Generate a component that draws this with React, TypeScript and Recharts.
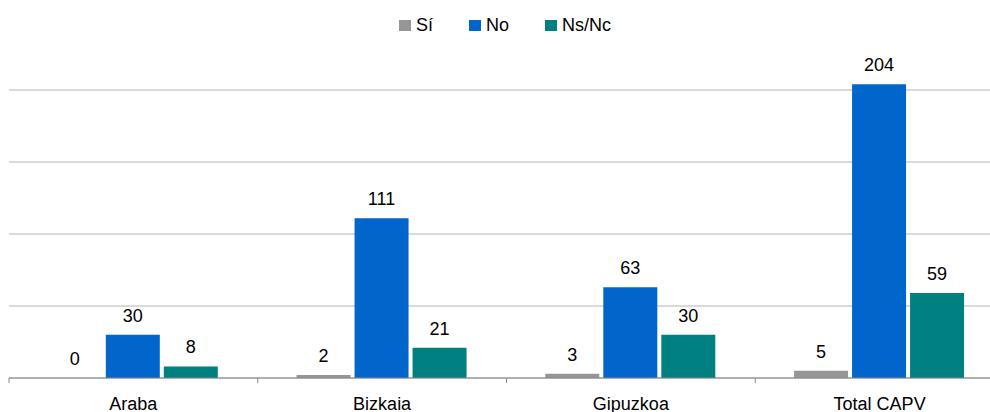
import React from 'react';
import { BarChart, Bar, XAxis, YAxis, CartesianGrid, Legend, LabelList } from 'recharts';

const categories = ['Araba', 'Bizkaia', 'Gipuzkoa', 'Total CAPV'];
const siValues = [0, 2, 3, 5];
const noValues = [30, 111, 63, 204];
const nsncValues = [8, 21, 30, 59];
const yTicks = [0, 50, 100, 150, 200];

const seriesInfo = [
  { key: 'si', name: 'Sí', color: '#969696' },
  { key: 'no', name: 'No', color: '#0066CC' },
  { key: 'nsnc', name: 'Ns/Nc', color: '#008080' },
];

const data = categories.map((c, i) => ({
  name: c,
  si: siValues[i],
  no: noValues[i],
  nsnc: nsncValues[i],
}));

const FONT = '"Liberation Sans", Arial, sans-serif';

const CustomTick = (props: any) => {
  const { x, y, payload, index } = props;
  const off = payload?.offset ?? 0;
  const isLast = index === categories.length - 1;
  return (
    <g>
      <line x1={x - off} x2={x - off} y1={y} y2={y + 5} stroke="#868686" strokeWidth={1} />
      {isLast && <line x1={x + off} x2={x + off} y1={y} y2={y + 5} stroke="#868686" strokeWidth={1} />}
      <text x={x} y={y + 19} dy="0.71em" textAnchor="middle" fontSize={18} fill="#000" fontFamily={FONT}>
        {payload.value}
      </text>
    </g>
  );
};

const renderLabel = (props: any) => {
  const { x, y, width, value } = props;
  if (value === undefined || value === null) return null;
  return (
    <text x={Number(x) + Number(width) / 2} y={Number(y) - 13} textAnchor="middle" fontSize={18} fill="#000" fontFamily={FONT}>
      {value}
    </text>
  );
};

const LegendContent = () => (
  <div
    style={{
      display: 'flex',
      justifyContent: 'center',
      fontFamily: FONT,
      fontSize: 18,
      lineHeight: '18px',
      color: '#000',
      whiteSpace: 'nowrap',
    }}
  >
    {seriesInfo.map((s, i) => (
      <span key={s.key} style={{ marginRight: i < seriesInfo.length - 1 ? 36 : 0 }}>
        <span
          style={{
            display: 'inline-block',
            width: 12,
            height: 11,
            background: s.color,
            marginRight: 5,
            verticalAlign: 'baseline',
          }}
        />
        {s.name}
      </span>
    ))}
  </div>
);

export default function App() {
  return (
    <div style={{ position: 'fixed', left: 0, top: 0, width: 990, height: 412, overflow: 'hidden', background: '#fff' }}>
      <BarChart
        width={1010}
        height={430}
        data={data}
        margin={{ top: 18, right: 6, left: 9, bottom: 12 }}
        barCategoryGap="15.6%"
        barGap={4}
      >
        <CartesianGrid horizontal={true} vertical={false} stroke="#b4b4b4" horizontalValues={yTicks} />
        <YAxis hide domain={[0, 250]} ticks={yTicks} width={0} />
        <XAxis
          dataKey="name"
          axisLine={{ stroke: '#868686' }}
          tickLine={false}
          tickSize={0}
          tickMargin={0}
          height={40}
          interval={0}
          tick={<CustomTick />}
        />
        <Legend
          verticalAlign="top"
          content={<LegendContent />}
          wrapperStyle={{ top: 16, left: 0, width: 1010, height: 0 }}
        />
        {seriesInfo.map((s) => (
          <Bar key={s.key} dataKey={s.key} name={s.name} fill={s.color} minPointSize={0.01} isAnimationActive={false}>
            <LabelList dataKey={s.key} content={renderLabel} />
          </Bar>
        ))}
      </BarChart>
    </div>
  );
}
